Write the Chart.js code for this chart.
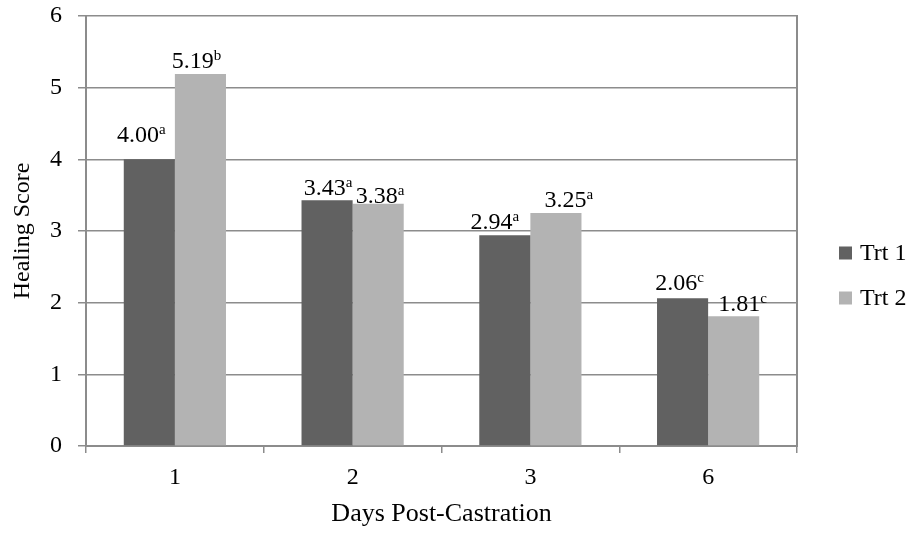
<!DOCTYPE html>
<html lang="en">
<head>
  <meta charset="utf-8" />
  <title>Healing Score</title>
  <script src="https://cdn.jsdelivr.net/npm/chart.js"></script>
  <style>
    * { box-sizing: border-box; margin: 0; padding: 0; }
    body { background: #fff; }
    #wrap { width: 914px; height: 533px; }
  </style>
</head>
<body>
  <div id="wrap"><canvas id="chart" width="914" height="533"></canvas></div>

  <script>
    const days = ['1', '2', '3', '6'];
    const trt1 = [4.00, 3.43, 2.94, 2.06];
    const trt2 = [5.19, 3.38, 3.25, 1.81];
    const trt1Sup = ['a', 'a', 'a', 'c'];
    const trt2Sup = ['b', 'a', 'a', 'c'];
    const yTicks = [0, 1, 2, 3, 4, 5, 6];

    const SERIF = '"Liberation Serif", "Times New Roman", serif';
    const GRID = '#8c8c8c';

    // value labels with superscript letters, nudged like the original
    const valueLabels = {
      id: 'valueLabels',
      afterDatasetsDraw(chart, args, opts) {
        const ctx = chart.ctx;
        ctx.save();
        ctx.fillStyle = '#000';
        ctx.textBaseline = 'alphabetic';
        chart.data.datasets.forEach((ds, di) => {
          chart.getDatasetMeta(di).data.forEach((bar, i) => {
            const txt = ds.data[i].toFixed(2);
            const sup = ds.sup[i];
            ctx.font = '24px ' + SERIF;
            const w1 = ctx.measureText(txt).width;
            ctx.font = '15px ' + SERIF;
            const w2 = ctx.measureText(sup).width;
            const x0 = bar.x - (w1 + w2) / 2 + opts.dx[di][i];
            const y0 = bar.y - opts.dy[di][i];
            ctx.font = '24px ' + SERIF;
            ctx.fillText(txt, x0, y0);
            ctx.font = '15px ' + SERIF;
            ctx.fillText(sup, x0 + w1, y0 - 8);
          });
        });
        ctx.restore();
      }
    };

    const sideLegend = {
      id: 'sideLegend',
      afterDraw(chart, args, opts) {
        const ctx = chart.ctx;
        ctx.save();
        ctx.font = '24px ' + SERIF;
        ctx.textBaseline = 'middle';
        chart.data.datasets.forEach((ds, i) => {
          const cy = opts.y + i * opts.gap;
          ctx.fillStyle = ds.backgroundColor;
          ctx.fillRect(opts.x, cy - 6.5, 13, 13);
          ctx.fillStyle = '#000';
          ctx.fillText(ds.label, opts.x + 21, cy + 1);
        });
        ctx.restore();
      }
    };

    new Chart('chart', {
      type: 'bar',
      data: {
        labels: days,
        datasets: [
          { label: 'Trt 1', data: trt1, sup: trt1Sup, backgroundColor: '#616161' },
          { label: 'Trt 2', data: trt2, sup: trt2Sup, backgroundColor: '#b3b3b3' }
        ]
      },
      options: {
        responsive: false,
        animation: false,
        events: [],
        layout: { padding: { top: 16, right: 117, bottom: 0, left: 0 } },
        datasets: { bar: { categoryPercentage: 0.575, barPercentage: 1, borderWidth: 0 } },
        plugins: {
          legend: { display: false },
          tooltip: { enabled: false },
          valueLabels: {
            dx: [[-8, 1, -10, -3], [-4, 2, 13, 9]],
            dy: [[17, 5, 6, 8], [6, 1, 6, 5]]
          },
          sideLegend: { x: 839, y: 253, gap: 45 }
        },
        scales: {
          x: {
            grid: { offset: true, drawOnChartArea: false, drawTicks: true, tickLength: 7, color: GRID, lineWidth: 1.5 },
            border: { display: true, color: GRID, width: 2 },
            ticks: { color: '#000', font: { family: SERIF, size: 24 }, padding: 10 },
            title: { display: true, text: 'Days Post-Castration', color: '#000', font: { family: SERIF, size: 26 }, padding: { top: 0, bottom: 3 } },
            afterFit(scale) {
              scale.height = 87;
              scale.paddingLeft = 0;
              scale.paddingRight = 0;
            }
          },
          y: {
            min: 0,
            max: 6,
            afterBuildTicks(scale) { scale.ticks = yTicks.map(v => ({ value: v })); },
            grid: { color: GRID, lineWidth: 1.5, drawTicks: true, tickLength: 8 },
            border: { display: true, color: GRID, width: 2 },
            ticks: { color: '#000', font: { family: SERIF, size: 24 }, padding: 16 },
            title: { display: true, text: 'Healing Score', color: '#000', font: { family: SERIF, size: 24 }, padding: { top: 8, bottom: 0 } },
            afterFit(scale) {
              scale.width = 86;
              scale.paddingTop = 0;
              scale.paddingBottom = 0;
            }
          },
          y2: {
            position: 'right',
            min: 0,
            max: 6,
            grid: { drawOnChartArea: false, drawTicks: false },
            border: { display: true, color: GRID, width: 2 },
            ticks: { display: false },
            afterFit(scale) {
              scale.width = 0;
              scale.paddingTop = 0;
              scale.paddingBottom = 0;
            }
          }
        }
      },
      plugins: [valueLabels, sideLegend]
    });
  </script>
</body>
</html>
